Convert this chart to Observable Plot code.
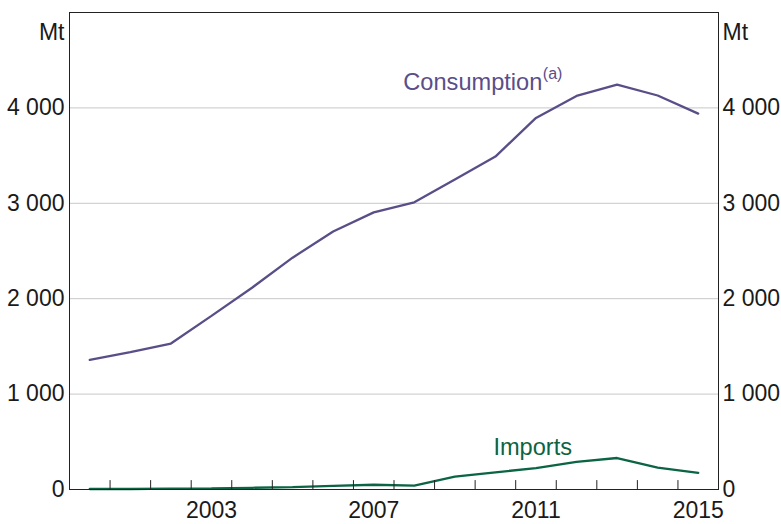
<!DOCTYPE html>
<html><head><meta charset="utf-8">
<script src="https://cdn.jsdelivr.net/npm/d3@7"></script>
<script src="https://cdn.jsdelivr.net/npm/@observablehq/plot@0.6"></script>
<style>
body{margin:0;background:#fff;}
svg{display:block}
</style>
</head><body><div id="chart"></div>
<script>
// ---- data ----
const years = [2000,2001,2002,2003,2004,2005,2006,2007,2008,2009,2010,2011,2012,2013,2014,2015];
const consumption = [1358,1440,1530,1820,2115,2430,2705,2905,3010,3250,3490,3895,4125,4245,4130,3940];
const imports = [5,5,10,12,18,25,38,50,40,135,180,225,290,330,230,175];
const yTickValues = [0,1000,2000,3000,4000];
const gridValues = [1000,2000,3000,4000];
const xLabelYears = [2003,2007,2011,2015];
const yearBoundaries = [2001,2002,2003,2004,2005,2006,2007,2008,2009,2010,2011,2012,2013,2014,2015];
const seriesNames = ["Consumption","Imports"];
const seriesColors = ["#5a4e88","#0b6444"];
const labelTexts = [
  {text:"Consumption", x:2008.23, y:4262, series:"Consumption"},
  {text:"Imports", x:2010.45, y:437, series:"Imports"}
];

// ---- build table ----
const rows = [];
years.forEach((yr,i)=>{
  rows.push({x: yr + 0.5, value: consumption[i], series: "Consumption"});
  rows.push({x: yr + 0.5, value: imports[i], series: "Imports"});
});
const colorOf = s => seriesColors[seriesNames.indexOf(s)];
const fmt = d3.formatLocale({decimal:".", thousands:" ", grouping:[3], currency:["",""]}).format(",");
const tickShape = {draw(ctx, l){ ctx.moveTo(0,0); ctx.lineTo(0,-l); }};
const font = "Liberation Sans, Arial, sans-serif";
const textColor = "#1a1a1a";

const chart = Plot.plot({
  width: 781,
  height: 524,
  marginLeft: 69,
  marginRight: 63,
  marginTop: 12,
  marginBottom: 35,
  style: {fontFamily: font, background: "#fff", color: textColor},
  x: {domain: [2000, 2016]},
  y: {domain: [0, 5000]},
  marks: [
    Plot.ruleY(gridValues, {stroke: "#c8c8c8", strokeWidth: 1}),
    Plot.line(rows, {x: "x", y: "value", z: "series", stroke: d => colorOf(d.series), strokeWidth: 2.3, strokeLinejoin: "miter"}),
    Plot.vector(yearBoundaries, {x: d => d, y: 0, length: 9, anchor: "start", rotate: 0, shape: tickShape, stroke: "#222", strokeWidth: 1}),
    Plot.frame({stroke: "#222", strokeWidth: 1}),
    Plot.axisY(yTickValues, {anchor: "left", tickSize: 0, tickPadding: 5, tickFormat: fmt, fontSize: 23, fill: textColor, label: null}),
    Plot.axisY(yTickValues, {anchor: "right", tickSize: 0, tickPadding: 4, tickFormat: fmt, fontSize: 23, fill: textColor, label: null}),
    Plot.axisX(xLabelYears.map(y => y + 0.5), {anchor: "bottom", tickSize: 0, tickPadding: 12, tickFormat: d => String(Math.floor(d)), fontSize: 23, fill: textColor, label: null}),
    Plot.text(["Mt"], {frameAnchor: "top-left", textAnchor: "end", dx: -5, dy: 11, fontSize: 23, fill: textColor}),
    Plot.text(["Mt"], {frameAnchor: "top-right", textAnchor: "start", dx: 4, dy: 11, fontSize: 23, fill: textColor}),
    Plot.text(labelTexts, {x: "x", y: "y", text: "text", textAnchor: "start", fontSize: 23.6, fill: d => colorOf(d.series)}),
    Plot.text(labelTexts.filter(d => d.series === "Consumption"), {x: "x", y: "y", text: () => "(a)", textAnchor: "start", dx: 139.5, dy: -9, fontSize: 16, fill: d => colorOf(d.series)})
  ]
});
document.getElementById("chart").appendChild(chart);
</script>
</body></html>
